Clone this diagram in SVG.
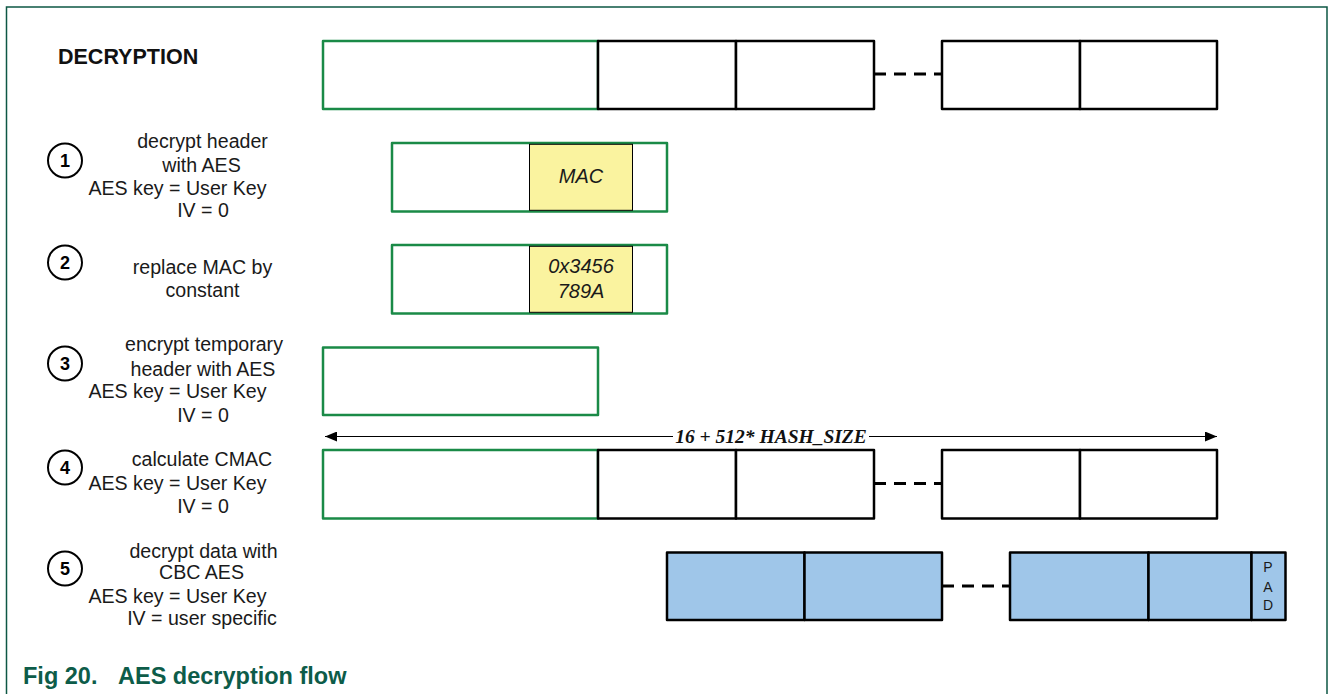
<svg xmlns="http://www.w3.org/2000/svg" width="1328" height="694" viewBox="0 0 1328 694">
<defs>
<marker id="ah" viewBox="0 0 12 10" refX="12" refY="5" markerWidth="12" markerHeight="10" markerUnits="userSpaceOnUse" orient="auto-start-reverse">
<path d="M0,0 L12,5 L0,10 Z" fill="#000"/>
</marker>
<style>
.frame{fill:none;stroke:#0d5744;stroke-width:1.5}
.g{fill:#fff;stroke:#1a8a47;stroke-width:2.5;stroke-linejoin:round}
.b{fill:#fff;stroke:#000;stroke-width:2.5;stroke-linejoin:round}
.bl{fill:#9fc6e9;stroke:#000;stroke-width:2.5;stroke-linejoin:round}
.y{fill:#faf39f;stroke:#000;stroke-width:1}
.dash{stroke:#000;stroke-width:3;stroke-dasharray:12 8;fill:none}
.lbl{font-family:"Liberation Sans",Arial,sans-serif;font-size:19.6px;fill:#1a1a1a;text-anchor:middle}
.num{font-family:"Liberation Sans",Arial,sans-serif;font-size:18px;font-weight:bold;fill:#000;text-anchor:middle}
.circ{fill:#fff;stroke:#000;stroke-width:2}
.it{font-family:"Liberation Sans",Arial,sans-serif;font-size:20px;font-style:italic;fill:#1a1a1a;text-anchor:middle}
.pad{font-family:"Liberation Sans",Arial,sans-serif;font-size:14px;fill:#1a1a1a;text-anchor:middle}
</style>
</defs>
<rect width="1328" height="694" fill="#fff"/>
<path class="frame" d="M6.5,694 V7 H1327 V694"/>

<g id="title">
<text x="58" y="64" font-family="Liberation Sans,Arial,sans-serif" font-size="21.5" font-weight="bold" fill="#111">DECRYPTION</text>
</g>

<g id="row0">
<rect class="g" x="323" y="41" width="275" height="68"/>
<rect class="b" x="598" y="41" width="138" height="68"/>
<rect class="b" x="736" y="41" width="138" height="68"/>
<rect class="b" x="942" y="41" width="138" height="68"/>
<rect class="b" x="1080" y="41" width="137" height="68"/>
</g>

<g id="step1">
<circle class="circ" cx="65" cy="160.5" r="17"/>
<text class="num" x="65" y="167">1</text>
<text class="lbl" x="202.5" y="148">decrypt header</text>
<text class="lbl" x="201.5" y="172">with AES</text>
<text class="lbl" x="177.5" y="195">AES key = User Key</text>
<text class="lbl" x="203" y="217">IV = 0</text>
<rect class="g" x="392" y="143" width="275" height="68.5"/>
<rect class="y" x="529.5" y="144.3" width="103" height="66"/>
<text class="it" x="581" y="183">MAC</text>
</g>

<g id="step2">
<circle class="circ" cx="65" cy="262.5" r="17"/>
<text class="num" x="65" y="269">2</text>
<text class="lbl" x="202.5" y="273.5">replace MAC by</text>
<text class="lbl" x="202.5" y="297">constant</text>
<rect class="g" x="392" y="245" width="275" height="68.5"/>
<rect class="y" x="529.5" y="246.3" width="103" height="66"/>
<text class="it" x="581" y="272.5">0x3456</text>
<text class="it" x="581" y="297.5">789A</text>
</g>

<g id="step3">
<circle class="circ" cx="65" cy="363.5" r="17"/>
<text class="num" x="65" y="370">3</text>
<text class="lbl" x="204" y="351">encrypt temporary</text>
<text class="lbl" x="203" y="375.5">header with AES</text>
<text class="lbl" x="177.5" y="398">AES key = User Key</text>
<text class="lbl" x="203" y="421.5">IV = 0</text>
<rect class="g" x="323" y="347.5" width="275" height="67.5"/>
</g>

<g id="step4">
<circle class="circ" cx="65" cy="467.5" r="17"/>
<text class="num" x="65" y="474">4</text>
<text class="lbl" x="202" y="466">calculate CMAC</text>
<text class="lbl" x="177.5" y="490">AES key = User Key</text>
<text class="lbl" x="203" y="512.5">IV = 0</text>
<rect class="g" x="323" y="450" width="275" height="68.5"/>
<rect class="b" x="598" y="450" width="138" height="68.5"/>
<rect class="b" x="736" y="450" width="138" height="68.5"/>
<rect class="b" x="942" y="450" width="138" height="68.5"/>
<rect class="b" x="1080" y="450" width="137" height="68.5"/>
</g>

<g id="step5">
<circle class="circ" cx="65" cy="568.5" r="17"/>
<text class="num" x="65" y="575">5</text>
<text class="lbl" x="203.5" y="557.5">decrypt data with</text>
<text class="lbl" x="201.5" y="579">CBC AES</text>
<text class="lbl" x="177.5" y="602.5">AES key = User Key</text>
<text class="lbl" x="202" y="625">IV = user specific</text>
<rect class="bl" x="667" y="552.5" width="137.5" height="67.5"/>
<rect class="bl" x="804.5" y="552.5" width="137.5" height="67.5"/>
<rect class="bl" x="1010" y="552.5" width="138.5" height="67.5"/>
<rect class="bl" x="1148.5" y="552.5" width="103" height="67.5"/>
<rect class="bl" x="1251.5" y="552.5" width="34" height="67.5"/>
<text class="pad" x="1268" y="572">P</text>
<text class="pad" x="1268" y="591.5">A</text>
<text class="pad" x="1268" y="610">D</text>
</g>

<g id="connectors">
<line class="dash" x1="874" y1="74" x2="942" y2="74"/>
<line class="dash" x1="874" y1="483.5" x2="942" y2="483.5"/>
<line class="dash" x1="942" y1="586" x2="1010" y2="586"/>
<line x1="325" y1="436.5" x2="1217" y2="436.5" stroke="#000" stroke-width="1" marker-start="url(#ah)" marker-end="url(#ah)"/>
<rect x="673" y="425" width="196" height="20" fill="#fff"/>
<text x="771" y="443" font-family="Liberation Serif,Times New Roman,serif" font-size="19.5" font-weight="bold" font-style="italic" fill="#111" text-anchor="middle">16 + 512* HASH_SIZE</text>
</g>

<g id="caption">
<text x="23" y="684" font-family="Liberation Sans,Arial,sans-serif" font-size="23.5" font-weight="bold" fill="#0d5c49">Fig 20.</text>
<text x="118" y="684" font-family="Liberation Sans,Arial,sans-serif" font-size="23.5" font-weight="bold" fill="#0d5c49">AES decryption flow</text>
</g>
</svg>
